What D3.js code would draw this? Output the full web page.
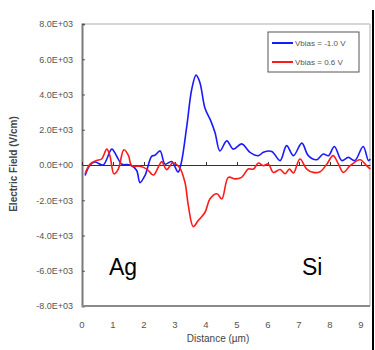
<!DOCTYPE html>
<html>
<head>
<meta charset="utf-8">
<script src="https://cdn.jsdelivr.net/npm/d3@7"></script>
<style>
  body { margin: 0; background: #fff; }
  svg { display: block; font-family: "Liberation Sans", Arial, sans-serif; }
</style>
</head>
<body>
<div id="chart"></div>
<script>
// distance (um) and field (V/cm)
const blueX = [0.1, 0.26, 0.42, 0.68, 0.96, 1.12, 1.28, 1.55, 1.76, 1.87, 2.03, 2.25, 2.35, 2.52, 2.68, 2.89, 3.1, 3.2, 3.38, 3.54, 3.68, 3.8, 3.97, 4.13, 4.29, 4.45, 4.67, 4.88, 5.15, 5.42, 5.69, 5.85, 6.12, 6.39, 6.6, 6.82, 7.09, 7.3, 7.57, 7.78, 7.95, 8.14, 8.38, 8.59, 8.8, 9.07, 9.24, 9.3];
const blueY = [-600, 0, 170, 0, 900, 500, 50, 0, -300, -1000, -600, 500, 550, 800, 50, 200, -400, 100, 2200, 4300, 5100, 4700, 3200, 2600, 1850, 800, 1370, 900, 1200, 720, 530, 720, 770, 250, 1100, 530, 1240, 530, 300, 620, 530, 1050, 250, 430, 250, 1050, 250, 340];

const redX = [0.1, 0.26, 0.47, 0.63, 0.8, 0.9, 1.03, 1.17, 1.35, 1.5, 1.6, 1.87, 2.09, 2.3, 2.46, 2.57, 2.73, 2.93, 3.14, 3.32, 3.43, 3.59, 3.75, 3.97, 4.13, 4.35, 4.51, 4.72, 4.94, 5.15, 5.36, 5.53, 5.69, 5.85, 6.01, 6.17, 6.39, 6.55, 6.69, 6.82, 7.03, 7.25, 7.46, 7.68, 7.9, 8.1, 8.27, 8.43, 8.65, 8.97, 9.18, 9.3];
const redY = [-500, 50, 250, 340, 900, 530, -500, -230, 860, 530, -40, -70, -230, -570, -130, 190, -260, 110, -130, -980, -2300, -3500, -3150, -2680, -1920, -1630, -1920, -700, -790, -700, -230, -230, 110, -40, 60, -420, -260, -500, -230, -450, 340, -230, -420, -380, 60, 530, 60, -420, -40, 300, -40, -230];

const yTicks = [-8000, -6000, -4000, -2000, 0, 2000, 4000, 6000, 8000];
const xTicks = [0, 1, 2, 3, 4, 5, 6, 7, 8, 9];
const seriesNames = ['Vbias = -1.0 V', 'Vbias = 0.6 V'];
const seriesColors = ['#1a1aff', '#ff1a1a'];

const width = 375, height = 350;
const plotL = 82, plotR = 370, plotT = 24, plotB = 306;

const svg = d3.select('#chart').append('svg')
  .attr('width', width)
  .attr('height', height);

const x = d3.scaleLinear().domain([0, 9.29]).range([plotL, plotR]);
const y = d3.scaleLinear().domain([-8000, 8000]).range([plotB, plotT]);

// outer frame line on the right edge
svg.append('line')
  .attr('x1', 373).attr('x2', 373).attr('y1', 10).attr('y2', height)
  .attr('stroke', '#000').attr('stroke-width', 2);

// plot border: top and right light, left and bottom darker
svg.append('line').attr('x1', plotL).attr('x2', plotR).attr('y1', plotT).attr('y2', plotT)
  .attr('stroke', '#c8c8c8').attr('stroke-width', 1.5);
svg.append('line').attr('x1', plotR).attr('x2', plotR).attr('y1', plotT).attr('y2', plotB)
  .attr('stroke', '#c8c8c8').attr('stroke-width', 1.5);

// y axis
const yAxis = svg.append('g')
  .attr('transform', `translate(${plotL},0)`)
  .call(d3.axisRight(y).tickValues(yTicks).tickSize(3)
    .tickFormat(d => d === 0 ? '0.0E+00' : (d / 1000).toFixed(1) + 'E+03'));
yAxis.select('.domain').attr('stroke', '#7a7a7a').attr('stroke-width', 2);
yAxis.selectAll('.tick line').attr('stroke', '#555');
yAxis.selectAll('.tick text')
  .attr('x', -9).attr('text-anchor', 'end')
  .attr('fill', '#555').style('font-size', '9px');

// bottom border
svg.append('line').attr('x1', plotL).attr('x2', plotR).attr('y1', plotB).attr('y2', plotB)
  .attr('stroke', '#8a8a8a').attr('stroke-width', 2);

// x axis sits on the zero line, labels go below the plot
const xAxis = svg.append('g')
  .attr('transform', `translate(0,${y(0)})`)
  .call(d3.axisTop(x).tickValues(xTicks).tickSize(3).tickSizeOuter(0).tickFormat(''));
xAxis.select('.domain').attr('stroke', '#333').attr('stroke-width', 1.2);
xAxis.selectAll('.tick line').attr('stroke', '#333');

svg.append('g').selectAll('text')
  .data(xTicks)
  .enter()
  .append('text')
  .attr('x', d => x(d))
  .attr('y', 328)
  .attr('text-anchor', 'middle')
  .attr('fill', '#555')
  .style('font-size', '9.5px')
  .text(d => d);

// series
const line = d3.line()
  .x(d => x(d[0]))
  .y(d => y(d[1]))
  .curve(d3.curveCatmullRom);

const series = [d3.zip(blueX, blueY), d3.zip(redX, redY)];

svg.append('g').selectAll('path')
  .data(series)
  .enter()
  .append('path')
  .attr('d', d => line(d))
  .attr('fill', 'none')
  .attr('stroke', (d, i) => seriesColors[i])
  .attr('stroke-width', 1.6)
  .attr('stroke-linejoin', 'round');

// axis titles
svg.append('text')
  .attr('x', 218).attr('y', 342)
  .attr('text-anchor', 'middle')
  .attr('fill', '#444')
  .style('font-size', '10px')
  .text('Distance (µm)');

svg.append('text')
  .attr('transform', 'rotate(-90)')
  .attr('x', -164).attr('y', 17)
  .attr('text-anchor', 'middle')
  .attr('fill', '#444')
  .style('font-size', '10px')
  .style('font-weight', 'bold')
  .text('Electric Field (V/cm)');

// region labels
svg.append('text')
  .attr('x', 109).attr('y', 275)
  .style('font-size', '23px')
  .attr('fill', '#000')
  .text('Ag');
svg.append('text')
  .attr('x', 302).attr('y', 275)
  .style('font-size', '23px')
  .attr('fill', '#000')
  .text('Si');

// legend
const legend = svg.append('g');
legend.append('rect')
  .attr('x', 268).attr('y', 32).attr('width', 91).attr('height', 40)
  .attr('fill', '#fff').attr('stroke', '#555').attr('stroke-width', 1);
seriesNames.forEach((name, i) => {
  const ly = 43 + i * 19;
  legend.append('line')
    .attr('x1', 272).attr('x2', 293).attr('y1', ly).attr('y2', ly)
    .attr('stroke', seriesColors[i]).attr('stroke-width', 2);
  legend.append('text')
    .attr('x', 295).attr('y', ly + 3)
    .attr('fill', '#555')
    .style('font-size', '8px')
    .text(name);
});
</script>
</body>
</html>
